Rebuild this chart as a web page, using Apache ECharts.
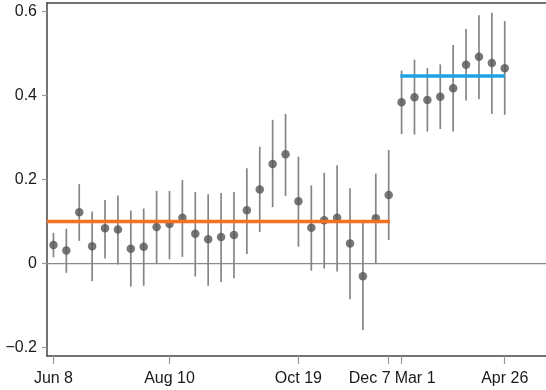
<!DOCTYPE html>
<html><head><meta charset="utf-8">
<script src="https://cdn.jsdelivr.net/npm/echarts@6/dist/echarts.min.js"></script>
<style>html,body{margin:0;padding:0;background:#fff}#c{width:546px;height:390px}</style>
</head><body><div id="c"></div>
<script>
const weeks = ['Jun 8','Jun 15','Jun 22','Jun 29','Jul 6','Jul 13','Jul 20','Jul 27','Aug 3','Aug 10','Aug 17','Aug 24','Aug 31','Sep 7','Sep 14','Sep 21','Sep 28','Oct 5','Oct 12','Oct 19','Oct 26','Nov 2','Nov 9','Nov 16','Nov 23','Nov 30','Dec 7',
  'Mar 1','Mar 8','Mar 15','Mar 22','Mar 29','Apr 5','Apr 12','Apr 19','Apr 26'];
const estimate = [0.044,0.031,0.122,0.041,0.084,0.081,0.035,0.040,0.087,0.094,0.109,0.071,0.058,0.063,0.068,0.127,0.176,0.237,0.260,0.148,0.085,0.103,0.109,0.048,-0.030,0.108,0.163,
  0.384,0.396,0.389,0.397,0.417,0.473,0.492,0.477,0.465];
const lower = [0.015,-0.022,0.054,-0.042,0.012,-0.002,-0.055,-0.053,-0.001,0.010,0.016,-0.031,-0.053,-0.044,-0.035,0.023,0.075,0.134,0.161,0.040,-0.017,-0.012,-0.019,-0.085,-0.158,0.000,0.056,
  0.308,0.307,0.314,0.320,0.314,0.388,0.391,0.356,0.354];
const upper = [0.073,0.083,0.189,0.124,0.151,0.162,0.126,0.131,0.173,0.173,0.199,0.170,0.165,0.168,0.170,0.227,0.278,0.342,0.356,0.254,0.186,0.216,0.234,0.179,0.097,0.214,0.270,
  0.459,0.485,0.465,0.474,0.520,0.558,0.591,0.597,0.577];
const period1Mean = 0.100;
const period2Mean = 0.446;
const xTickLabels = ['Jun 8','Aug 10','Oct 19','Dec 7','Mar 1','Apr 26'];
const yTickValues = [-0.2, 0, 0.2, 0.4, 0.6];

const xMin = -0.5, xMax = 38.2;
const p1Start = 0, p1End = weeks.indexOf('Dec 7');
const p2Start = weeks.indexOf('Mar 1'), p2End = weeks.length - 1;
const xTickValues = xTickLabels.map(l => weeks.indexOf(l));

const pts = estimate.map((v, i) => [i, v]);
const bars = estimate.map((v, i) => [i, lower[i], upper[i]]);

const FONT = "'Liberation Sans', Arial, Helvetica, sans-serif";
const chart = echarts.init(document.getElementById('c'), null, {renderer: 'canvas'});
chart.setOption({
  animation: false,
  backgroundColor: '#fff',
  grid: {left: 47, right: 0, top: 3, bottom: 34},
  xAxis: [{
    type: 'value', min: xMin, max: xMax, position: 'bottom',
    splitLine: {show: false},
    axisLine: {show: true, onZero: false, lineStyle: {color: '#444', width: 1.5}},
    axisTick: {show: true, customValues: xTickValues, length: 8, lineStyle: {color: '#999', width: 1.2}},
    axisLabel: {
      customValues: xTickValues, margin: 15, color: '#1a1a1a', fontFamily: FONT, fontSize: 16,
      formatter: v => {
        const l = weeks[Math.round(v)];
        if (l === 'Dec 7') return '{l|' + l + '}';
        if (l === 'Mar 1') return '{r|' + l + '}';
        return l;
      },
      rich: {
        l: {fontFamily: FONT, fontSize: 16, color: '#1a1a1a', padding: [0, 38, 0, 0]},
        r: {fontFamily: FONT, fontSize: 16, color: '#1a1a1a', padding: [0, 0, 0, 27]}
      }
    }
  }, {
    type: 'value', min: xMin, max: xMax, position: 'top',
    splitLine: {show: false}, axisTick: {show: false}, axisLabel: {show: false},
    axisLine: {show: true, onZero: false, lineStyle: {color: '#444', width: 1.5}}
  }],
  yAxis: {
    type: 'value', min: -0.22, max: 0.62,
    splitLine: {show: false},
    axisLine: {show: true, onZero: false, lineStyle: {color: '#444', width: 1.5}},
    axisTick: {show: true, customValues: yTickValues, length: 5, lineStyle: {color: '#999', width: 1.2}},
    axisLabel: {
      customValues: yTickValues, margin: 10, color: '#1a1a1a', fontFamily: FONT, fontSize: 16,
      formatter: v => (v === 0 ? '0' : v.toFixed(1).replace('-', '\u2212'))
    }
  },
  series: [
    {
      type: 'line', data: [[xMin, 0], [xMax, 0]], symbol: 'none', silent: true,
      lineStyle: {color: '#8a8a8a', width: 1.2}, z: 1
    },
    {
      type: 'custom', data: bars, encode: {x: 0, y: [1, 2]}, z: 2,
      renderItem: (params, api) => {
        const a = api.coord([api.value(0), api.value(1)]);
        const b = api.coord([api.value(0), api.value(2)]);
        return {type: 'line', shape: {x1: a[0], y1: a[1], x2: b[0], y2: b[1]},
          style: {stroke: '#858585', lineWidth: 1.7}};
      }
    },
    {
      type: 'scatter', data: pts, symbol: 'circle', symbolSize: 8.5, z: 3,
      itemStyle: {color: '#555555'}
    },
    {
      type: 'line', data: [[xMin, period1Mean], [p1End + 0.1, period1Mean]], symbol: 'none', z: 4,
      lineStyle: {color: '#f47321', width: 3.5, cap: 'butt'}
    },
    {
      type: 'line', data: [[p2Start - 0.1, period2Mean], [p2End, period2Mean]], symbol: 'none', z: 4,
      lineStyle: {color: '#1ea2e4', width: 3.5, cap: 'butt'}
    }
  ]
});
</script></body></html>
